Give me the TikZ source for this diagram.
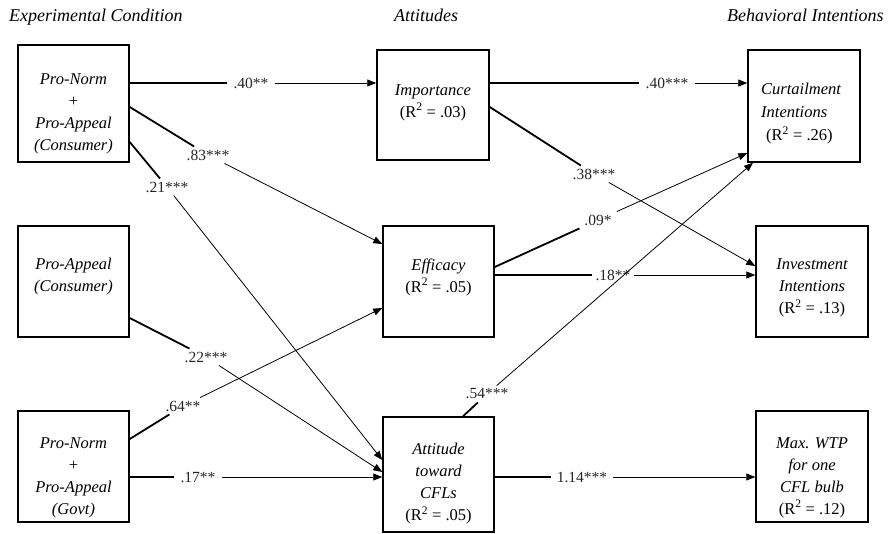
\documentclass[tikz,border=0pt]{standalone}
\usepackage{fontspec}
\setmainfont{Liberation Serif}
\usetikzlibrary{arrows.meta}
\begin{document}
\begin{tikzpicture}[x=1pt,y=-1pt,
 box/.style={draw,line width=1.5pt,minimum width=111pt,minimum height=111pt,inner sep=0pt},
 btxt/.style={align=center,font=\fontsize{16.5}{22}\selectfont\itshape,inner sep=0pt},
 hdr/.style={font=\fontsize{18}{22}\selectfont\itshape,inner sep=0pt},
 lab/.style={font=\fontsize{15.5}{18}\selectfont,text=black!85,inner xsep=6pt,inner ysep=3pt},
 thk/.style={line width=1.8pt},
 thn/.style={line width=0.8pt,-{Triangle[length=9pt,width=7pt]}},
]
\useasboundingbox (0,0) rectangle (891,533);

% headers
\node[hdr,anchor=base west] (h1) at (9,21) {Experimental Condition};
\node[hdr,anchor=base] (h2) at (426,21) {Attitudes};
\node[hdr,anchor=base west] (h3) at (727,21) {Behavioral Intentions};

% boxes
\node[box,minimum height=117pt] (a1) at (73.5,103.5) {};
\node[box] (a2) at (73.5,281.5) {};
\node[box] (a3) at (73.5,466.5) {};
\node[box,minimum width=112pt,minimum height=110pt] (imp) at (433,105) {};
\node[box] (eff) at (438.5,281.5) {};
\node[box,minimum height=115pt] (att) at (438.5,474.5) {};
\node[box,minimum width=112pt,minimum height=112pt] (cur) at (804,106) {};
\node[box,minimum width=112pt] (inv) at (812,281.5) {};
\node[box,minimum width=112pt] (wtp) at (812,466.5) {};

% box texts
\node[btxt] (ta1) at (73.5,113.5) {Pro-Norm\\{\upshape +}\\Pro-Appeal\\(Consumer)};
\node[btxt] (ta2) at (73.5,277) {Pro-Appeal\\(Consumer)};
\node[btxt] (ta3) at (73.5,478) {Pro-Norm\\{\upshape +}\\Pro-Appeal\\(Govt)};
\node[btxt] (timp) at (433,102.5) {Importance\\{\upshape (R\textsuperscript{2} = .03)}};
\node[btxt] (teff) at (438.5,277) {Efficacy\\{\upshape (R\textsuperscript{2} = .05)}};
\node[btxt] (tatt) at (438.5,483.5) {Attitude\\toward\\CFLs\\{\upshape (R\textsuperscript{2} = .05)}};
\node[btxt,align=left,anchor=west,font=\fontsize{16.5}{23}\selectfont\itshape] (tcur) at (761,113.5) {Curtailment\\Intentions\\\hspace*{5pt}{\upshape (R\textsuperscript{2} = .26)}};
\node[btxt] (tinv) at (812,288) {Investment\\Intentions\\{\upshape (R\textsuperscript{2} = .13)}};
\node[btxt] (twtp) at (812,477.5) {Max. WTP\\for one\\CFL bulb\\{\upshape (R\textsuperscript{2} = .12)}};

% labels
\node[lab] (l1) at (251,83) {.40**};
\node[lab] (l2) at (208,155) {.83***};
\node[lab] (l3) at (167,187) {.21***};
\node[lab] (l4) at (667,83) {.40***};
\node[lab] (l5) at (594,174) {.38***};
\node[lab] (l6) at (598,220) {.09*};
\node[lab,inner xsep=3pt] (l7) at (613,275) {.18**};
\node[lab] (l8) at (487,394) {.54***};
\node[lab] (l9) at (582,477) {1.14***};
\node[lab] (l10) at (206,357) {.22***};
\node[lab] (l11) at (183,406) {.64**};
\node[lab] (l12) at (198,477) {.17**};

% connectors
\draw[thk] (a1.east |- 0,83) -- (l1);   \draw[thn] (l1) -- (imp.west |- 0,83);
\draw[thk] (a1.east |- 0,107) -- (l2);  \draw[thn] (l2) -- (eff.west |- 0,244);
\draw[thk] (a1.east |- 0,142) -- (l3);  \draw[thn] (l3) -- (att.west |- 0,460);
\draw[thk] (imp.east |- 0,83) -- (l4);  \draw[thn] (l4) -- (cur.west |- 0,83);
\draw[thk] (imp.east |- 0,107) -- (l5); \draw[thn] (l5) -- (inv.west |- 0,266);
\draw[thk] (eff.east |- 0,267) -- (l6); \draw[thn] (l6) -- (cur.west |- 0,153);
\draw[thk] (eff.east |- 0,275) -- (l7); \draw[thn] (l7) -- (inv.west |- 0,275);
\draw[thk] (att.north -| 463,0) -- (l8); \draw[thn] (l8) -- (cur.south -| 753,0);
\draw[thk] (att.east |- 0,477) -- (l9); \draw[thn] (l9) -- (wtp.west |- 0,477);
\draw[thk] (a2.east |- 0,318) -- (l10); \draw[thn] (l10) -- (att.west |- 0,472);
\draw[thk] (a3.east |- 0,439) -- (l11); \draw[thn] (l11) -- (eff.west |- 0,308);
\draw[thk] (a3.east |- 0,477) -- (l12); \draw[thn] (l12) -- (att.west |- 0,477);
\end{tikzpicture}
\end{document}
